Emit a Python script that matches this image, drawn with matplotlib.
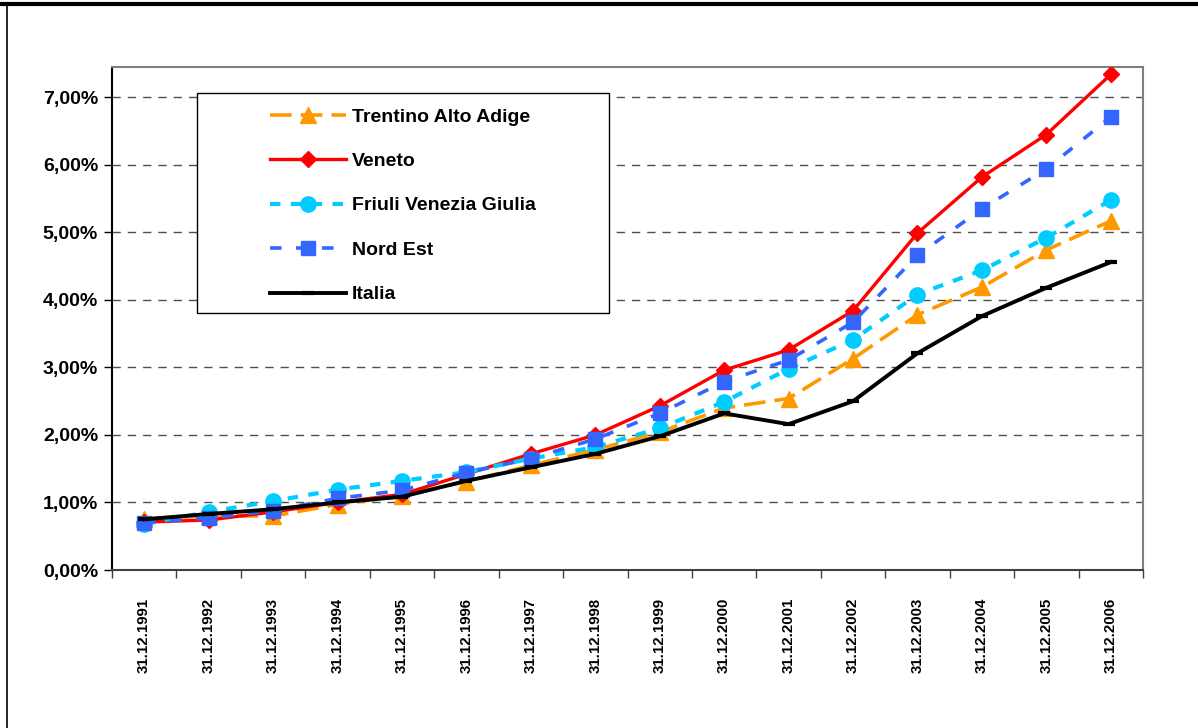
import matplotlib
matplotlib.use("Agg")
import matplotlib.pyplot as plt
from matplotlib.ticker import FixedLocator, FuncFormatter
from matplotlib.patches import Rectangle
from matplotlib.lines import Line2D

# dati (valori in %)
anni = ["31.12.1991", "31.12.1992", "31.12.1993", "31.12.1994", "31.12.1995",
        "31.12.1996", "31.12.1997", "31.12.1998", "31.12.1999", "31.12.2000",
        "31.12.2001", "31.12.2002", "31.12.2003", "31.12.2004", "31.12.2005",
        "31.12.2006"]
trentino = [0.76, 0.80, 0.80, 0.97, 1.10, 1.31, 1.55, 1.78, 2.04, 2.40,
            2.54, 3.13, 3.78, 4.19, 4.74, 5.17]
veneto = [0.71, 0.74, 0.86, 1.00, 1.12, 1.42, 1.72, 2.00, 2.43, 2.96,
          3.26, 3.84, 4.99, 5.82, 6.45, 7.34]
friuli = [0.68, 0.86, 1.02, 1.19, 1.32, 1.45, 1.65, 1.82, 2.10, 2.49,
          2.98, 3.41, 4.08, 4.44, 4.92, 5.48]
nord_est = [0.70, 0.77, 0.88, 1.06, 1.18, 1.44, 1.65, 1.94, 2.32, 2.79,
            3.11, 3.67, 4.66, 5.35, 5.94, 6.71]
italia = [0.75, 0.83, 0.90, 1.00, 1.085, 1.32, 1.52, 1.72, 1.98, 2.32,
          2.16, 2.50, 3.21, 3.76, 4.18, 4.56]

plt.rcParams['font.family'] = ['Liberation Sans', 'DejaVu Sans']
plt.rcParams['font.weight'] = 'bold'

fig = plt.figure(figsize=(11.98, 7.28), dpi=100)
ax = fig.add_axes([112/1198, 1 - 570/728, (1143 - 112)/1198, (570 - 67)/728])

x = list(range(len(anni)))

ax.plot(x, trentino, color="#FF9900", lw=2.6, dashes=(6, 2.5),
        marker="^", ms=11.5, label="Trentino Alto Adige", zorder=3)
ax.plot(x, veneto, color="#FF0000", lw=2.4, marker="D", ms=8,
        label="Veneto", zorder=3)
ax.plot(x, friuli, color="#00CCFF", lw=3.0, dashes=(2.5, 2.5),
        marker="o", ms=11, label="Friuli Venezia Giulia", zorder=3)
ax.plot(x, nord_est, color="#3366FF", lw=2.6, dashes=(3.2, 4),
        marker="s", ms=10, label="Nord Est", zorder=3)
ax.plot(x, italia, color="black", lw=2.8, marker="_", ms=8, mew=3,
        label="Italia", zorder=3)

ax.set_xlim(-0.5, len(anni) - 0.5)
ax.set_ylim(0, 7.45)

# assi
ax.xaxis.set_major_locator(FixedLocator([i - 0.5 for i in range(len(anni) + 1)]))
ax.xaxis.set_minor_locator(FixedLocator(x))
ax.set_xticklabels([])
ax.set_xticklabels(anni, minor=True, rotation=90, fontsize=10.8, fontweight='bold')
ax.tick_params(axis='x', which='major', direction='out', length=6, width=1, color='#404040')
ax.tick_params(axis='x', which='minor', length=0, pad=20)

ax.set_yticks([0, 1, 2, 3, 4, 5, 6, 7])
ax.yaxis.set_major_formatter(FuncFormatter(lambda v, p: f"{v:.2f}%".replace(".", ",")))
ax.tick_params(axis='y', direction='out', length=6, width=1, labelsize=14, pad=4)
for lab in ax.get_yticklabels():
    lab.set_fontweight('bold')

ax.grid(axis='y', color='#505050', lw=1, dashes=(6, 5))
ax.set_axisbelow(True)

ax.spines['left'].set_color('black')
ax.spines['left'].set_linewidth(1.5)
ax.spines['bottom'].set_color('#404040')
ax.spines['bottom'].set_linewidth(1.5)
ax.spines['top'].set_color('#808080')
ax.spines['top'].set_linewidth(1.5)
ax.spines['right'].set_color('#808080')
ax.spines['right'].set_linewidth(1.5)

# riquadro legenda
x0 = (197 - 112) / 1031
x1 = (609 - 112) / 1031
y0 = (570 - 313) / 503
y1 = (570 - 93) / 503
ax.add_patch(Rectangle((x0, y0), x1 - x0, y1 - y0, transform=ax.transAxes,
                       facecolor='white', edgecolor='black', lw=1, zorder=4))
leg = ax.legend(loc='upper left', bbox_to_anchor=((270 - 112) / 1031, (570 - 108) / 503),
                frameon=False, fontsize=14, handlelength=3.9, handletextpad=0.3,
                labelspacing=1.38, borderpad=0, borderaxespad=0)
leg.set_zorder(5)
for t in leg.get_texts():
    t.set_fontweight('bold')

# cornice esterna
fig.add_artist(Line2D([0, 1], [1 - 4/728, 1 - 4/728], transform=fig.transFigure,
                      color='black', lw=3))
fig.add_artist(Line2D([7/1198, 7/1198], [0, 1 - 4/728], transform=fig.transFigure,
                      color='black', lw=1.2))

fig.savefig("out.png", dpi=100)
